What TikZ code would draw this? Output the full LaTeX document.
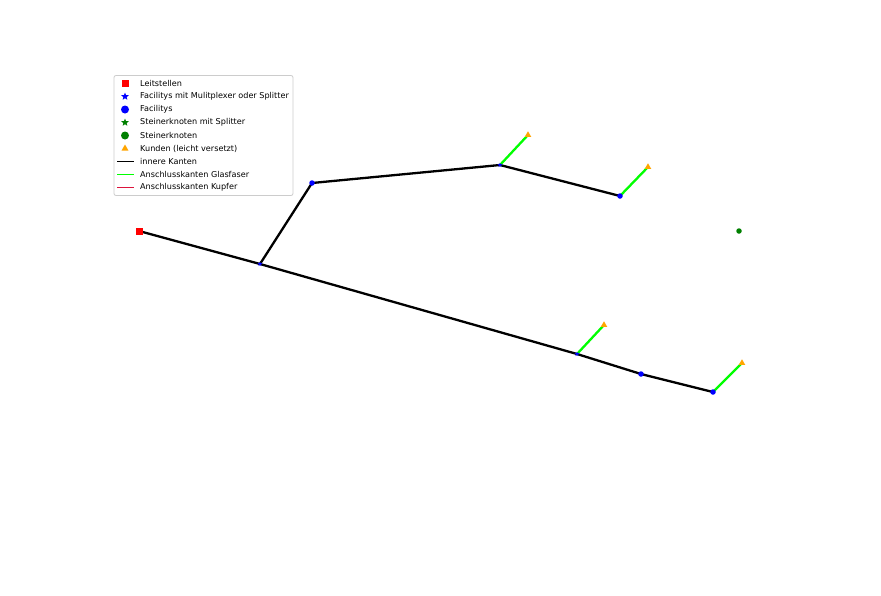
\documentclass[tikz,border=0pt]{standalone}
\usepackage{fontspec}
\setmainfont{DejaVu Sans}
\usetikzlibrary{shapes.geometric}
\definecolor{mplblue}{RGB}{0,0,255}
\definecolor{mplgreen}{RGB}{0,128,0}
\definecolor{mplorange}{RGB}{255,165,0}
\definecolor{mpllime}{RGB}{0,255,0}
\definecolor{mplred}{RGB}{255,0,0}
\definecolor{mplcrimson}{RGB}{220,20,60}
\definecolor{legframe}{RGB}{204,204,204}
\tikzset{
  leit/.style={rectangle,fill=mplred,minimum size=7pt,inner sep=0pt},
  facstar/.style={star,star points=5,star point ratio=2.3,fill=mplblue,minimum size=6pt,inner sep=0pt},
  faccirc/.style={circle,fill=mplblue,minimum size=5.5pt,inner sep=0pt},
  steinstar/.style={star,star points=5,star point ratio=2.3,fill=mplgreen,minimum size=7pt,inner sep=0pt},
  steincirc/.style={circle,fill=mplgreen,minimum size=5.5pt,inner sep=0pt},
  kunde/.style={regular polygon,regular polygon sides=3,fill=mplorange,minimum size=8pt,inner sep=0pt},
  inner/.style={line width=2.3pt,black},
  glas/.style={line width=2.3pt,mpllime},
  kupfer/.style={line width=1.3pt,mplcrimson},
  legtext/.style={anchor=west,font=\fontsize{8.1}{9}\selectfont,inner sep=0pt}
}
\begin{document}
\begin{tikzpicture}[x=1pt,y=-1pt]
\useasboundingbox[fill=white] (0,0) rectangle (881,595);
% coordinates of nodes
\coordinate (pL) at (139,231);
\coordinate (pA) at (260,264);
\coordinate (pB) at (312,183);
\coordinate (pC) at (500,165);
\coordinate (pD) at (620,196);
\coordinate (pE) at (577,354);
\coordinate (pF) at (641,374);
\coordinate (pG) at (713,392);
\coordinate (k1) at (528,135);
\coordinate (k2) at (648,167);
\coordinate (k3) at (604,325);
\coordinate (k4) at (742,363);
% edges
\draw[inner] (pL) -- (pA);
\draw[inner] (pA) -- (pB);
\draw[inner] (pB) -- (pC);
\draw[inner] (pC) -- (pD);
\draw[inner] (pA) -- (pE);
\draw[inner] (pE) -- (pF);
\draw[inner] (pF) -- (pG);
\draw[glas] (pC) -- (k1);
\draw[glas] (pD) -- (k2);
\draw[glas] (pE) -- (k3);
\draw[glas] (pG) -- (k4);
% nodes
\node[leit] (L) at (pL) {};
\node[facstar,minimum size=5pt] (A) at (pA) {};
\node[faccirc] (B) at (pB) {};
\node[facstar,minimum size=5pt] (C) at (pC) {};
\node[faccirc] (D) at (pD) {};
\node[facstar,minimum size=5pt] (E) at (pE) {};
\node[faccirc] (F) at (pF) {};
\node[faccirc] (G) at (pG) {};
\node[steincirc] (S) at (739,231) {};
\node[kunde,minimum size=7.5pt] (K1) at (k1) {};
\node[kunde,minimum size=7.5pt] (K2) at (k2) {};
\node[kunde,minimum size=7.5pt] (K3) at (k3) {};
\node[kunde,minimum size=7.5pt] (K4) at (k4) {};
% legend
\draw[legframe,fill=white,rounded corners=2pt,line width=0.8pt] (114,75.5) rectangle (293,195.5);
\node[leit] (lg1) at (125,83.5) {};
\node[facstar,minimum size=8pt] (lg2) at (125,96.5) {};
\node[faccirc,minimum size=8pt] (lg3) at (125,109.5) {};
\node[steinstar,minimum size=8pt] (lg4) at (125,122.5) {};
\node[steincirc,minimum size=8pt] (lg5) at (125,135.5) {};
\node[kunde] (lg6) at (125,148.5) {};
\draw[line width=1.3pt,black] (117,161.5) -- (134,161.5);
\draw[line width=1.3pt,mpllime] (117,174.5) -- (134,174.5);
\draw[kupfer] (117,187.5) -- (134,187.5);
\node[legtext] (t1) at (140,83.5) {Leitstellen};
\node[legtext] (t2) at (140,96.5) {Facilitys mit Mulitplexer oder Splitter};
\node[legtext] (t3) at (140,109.5) {Facilitys};
\node[legtext] (t4) at (140,122.5) {Steinerknoten mit Splitter};
\node[legtext] (t5) at (140,135.5) {Steinerknoten};
\node[legtext] (t6) at (140,148.5) {Kunden (leicht versetzt)};
\node[legtext] (t7) at (140,161.5) {innere Kanten};
\node[legtext] (t8) at (140,174.5) {Anschlusskanten Glasfaser};
\node[legtext] (t9) at (140,187.5) {Anschlusskanten Kupfer};
\end{tikzpicture}
\end{document}
